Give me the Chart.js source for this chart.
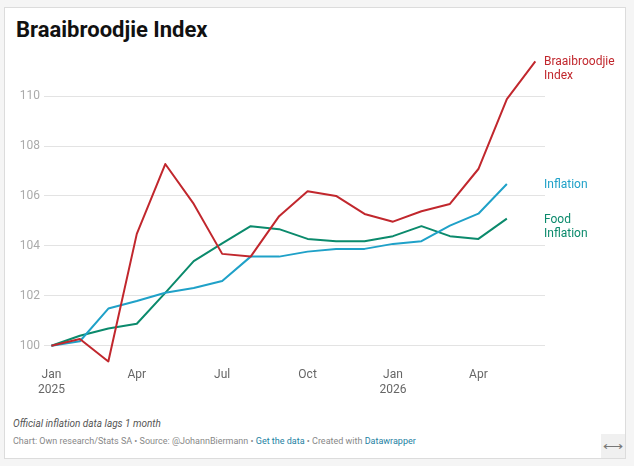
<!DOCTYPE html>
<html>
<head>
<meta charset="utf-8">
<script src="https://cdn.jsdelivr.net/npm/chart.js@4/dist/chart.umd.min.js"></script>
<style>
  html, body { margin: 0; padding: 0; background: #f5f5f5; }
  body { width: 634px; height: 466px; position: relative; font-family: Roboto, sans-serif; overflow: hidden; }
  .card { position: absolute; left: 4px; top: 7px; width: 620px; height: 450px; background: #fff; border: 1px solid #dcdcdc; }
  h1 { position: absolute; left: 11px; top: 9px; margin: 0; font-size: 22px; font-weight: 700; color: #111; letter-spacing: 0; }
  .chart { position: absolute; left: 0; top: 27px; width: 620px; height: 367px; }
  .note { position: absolute; left: 8px; top: 410px; font-size: 10px; font-style: italic; color: #555; }
  .source { position: absolute; left: 8px; top: 428px; font-size: 9px; color: #888; }
  .source a { color: #1d81a2; text-decoration: none; }
  .resize { position: absolute; right: 0; bottom: 0; width: 24px; height: 24px; background: #f0f0f0; color: #777; font-size: 14px; line-height: 24px; text-align: center; }
</style>
</head>
<body>
<div class="card">
  <h1>Braaibroodjie Index</h1>
  <div class="chart"><canvas id="myChart"></canvas></div>
  <div class="note">Official inflation data lags 1 month</div>
  <div class="source">Chart: Own research/Stats SA • Source: @JohannBiermann • <a>Get the data</a> • Created with <a>Datawrapper</a></div>
  <div class="resize">&#x27F7;</div>
</div>
<script>
// months from Jan 2025 (index 0) to Jun 2026 (index 17)
var months = ["Jan 2025", "Feb", "Mar", "Apr", "May", "Jun", "Jul", "Aug", "Sep", "Oct", "Nov", "Dec",
  "Jan 2026", "Feb", "Mar", "Apr", "May", "Jun"];
var braai = [100, 100.27, 99.37, 104.48, 107.28, 105.68, 103.68, 103.57, 105.19, 106.19, 106.0, 105.28,
  104.97, 105.39, 105.68, 107.08, 109.88, 111.39];
var inflation = [100, 100.18, 101.49, 101.79, 102.12, 102.31, 102.59, 103.57, 103.57, 103.77, 103.88, 103.88,
  104.08, 104.19, 104.81, 105.29, 106.48];
var foodInflation = [100, 100.4, 100.69, 100.88, 102.12, 103.39, 104.1, 104.79, 104.67, 104.28, 104.19, 104.19,
  104.39, 104.79, 104.39, 104.28, 105.09];
var xTicks = [0, 3, 6, 9, 12, 15];
var xTickLabels = [["Jan", "2025"], "Apr", "Jul", "Oct", ["Jan", "2026"], "Apr"];
var yTicks = [100, 102, 104, 106, 108, 110];

var names = [["Braaibroodjie", "Index"], ["Inflation"], ["Food", "Inflation"]];
var colors = ["#c1272d", "#1fa1c8", "#0b8a6c"];

function toPoints(arr) {
  return arr.map(function (v, i) { return { x: i, y: v }; });
}

// labels next to the end of each line
var endLabels = {
  id: 'endLabels',
  afterDatasetsDraw: function (chart) {
    var ctx = chart.ctx;
    ctx.save();
    ctx.font = '12px Roboto';
    ctx.textBaseline = 'middle';
    chart.data.datasets.forEach(function (ds, i) {
      var meta = chart.getDatasetMeta(i);
      var last = meta.data[meta.data.length - 1];
      ctx.fillStyle = ds.borderColor;
      names[i].forEach(function (line, j) {
        ctx.fillText(line, chart.chartArea.right - 1, last.y + 1 + j * 14);
      });
    });
    ctx.restore();
  }
};

var ctx = document.getElementById('myChart').getContext('2d');
var myChart = new Chart(ctx, {
  type: 'line',
  data: {
    datasets: [
      { data: toPoints(braai), borderColor: colors[0] },
      { data: toPoints(inflation), borderColor: colors[1] },
      { data: toPoints(foodInflation), borderColor: colors[2] }
    ]
  },
  options: {
    responsive: true,
    maintainAspectRatio: false,
    animation: false,
    clip: false,
    layout: { padding: { left: 8, right: 80, top: 0, bottom: 0 } },
    elements: {
      line: { borderWidth: 2, tension: 0, borderJoinStyle: 'round' },
      point: { radius: 0 }
    },
    plugins: { legend: { display: false }, tooltip: { enabled: false } },
    scales: {
      x: {
        type: 'linear',
        min: -0.26,
        max: 17.34,
        afterBuildTicks: function (axis) { axis.ticks = xTicks.map(function (v) { return { value: v }; }); },
        grid: { display: false, drawTicks: false },
        border: { display: false },
        ticks: {
          color: '#666',
          font: { family: 'Roboto', size: 12 },
          maxRotation: 0,
          padding: 5,
          callback: function (v) { return xTickLabels[xTicks.indexOf(v)]; }
        }
      },
      y: {
        min: 99.3,
        max: 112,
        afterBuildTicks: function (axis) { axis.ticks = yTicks.map(function (v) { return { value: v }; }); },
        afterFit: function (axis) { axis.width = 31; },
        grid: { color: '#e3e3e3', drawTicks: false },
        border: { display: false },
        ticks: { color: '#aaa', font: { family: 'Roboto', size: 12 }, padding: 4 }
      }
    }
  },
  plugins: [endLabels]
});
</script>
</body>
</html>
